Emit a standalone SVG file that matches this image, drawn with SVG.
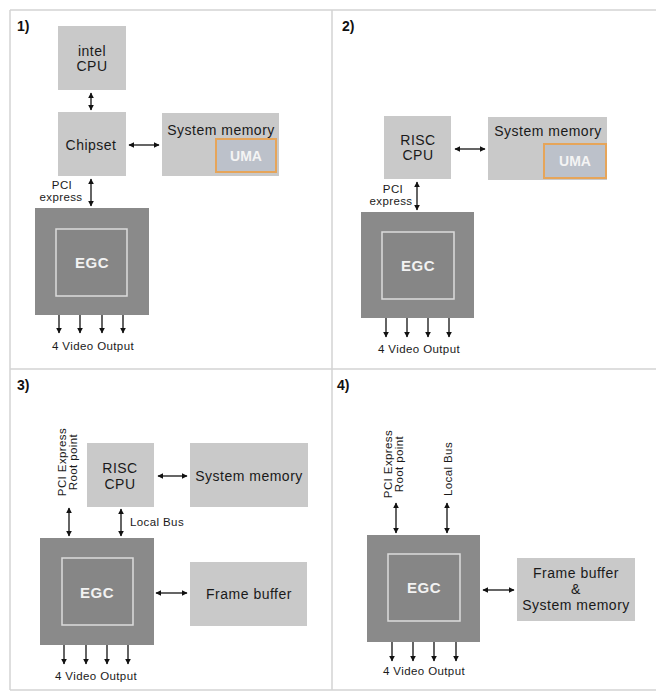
<svg xmlns="http://www.w3.org/2000/svg" width="656" height="695" viewBox="0 0 656 695">
<defs>
<marker id="ah" viewBox="0 0 10 10" refX="9" refY="5" markerWidth="6" markerHeight="6" orient="auto-start-reverse" markerUnits="userSpaceOnUse">
<path d="M0,0 L10,5 L0,10 z" fill="#111"/>
</marker>
<style>
.t{font-family:"Liberation Sans",Arial,sans-serif;fill:#1a1a1a;text-anchor:middle}
.b{font-size:14px;letter-spacing:0.5px}
.s{font-size:11.5px;letter-spacing:0.4px}
.lbl{font-family:"Liberation Sans",Arial,sans-serif;font-weight:bold;font-size:14px;fill:#111}
.box{fill:#c9c9c9}
.egco{fill:#8a8a8a}
.egci{fill:#868686;stroke:#dcdcdc;stroke-width:1.5}
.egct{font-family:"Liberation Sans",Arial,sans-serif;font-weight:bold;font-size:15px;letter-spacing:0.5px;fill:#f2f2f2;text-anchor:middle}
.uma{fill:#bcc1ca;stroke:#e6a55a;stroke-width:2}
.umat{font-family:"Liberation Sans",Arial,sans-serif;font-weight:bold;font-size:14px;fill:#f4f4f4;text-anchor:middle}
.c line{stroke:#111;stroke-width:1.3}
.grid{stroke:#d4d4d4;stroke-width:1.5;fill:none}
</style>
</defs>
<rect width="656" height="695" fill="#fff"/>
<g id="grid">
<path class="grid" d="M10,10 H656 M10,10 V690 M10,690 H656 M332,10 V690 M10,369 H656"/>
</g>

<!-- Panel 1 -->
<text class="lbl" x="17" y="31">1)</text>
<g id="p1-cpu"><rect class="box" x="58" y="26" width="68" height="64"/><text class="t b" x="92" y="56">intel</text><text class="t b" x="92" y="71">CPU</text></g>
<g id="p1-chipset"><rect class="box" x="58" y="112" width="68" height="64"/><text class="t b" x="91" y="150">Chipset</text></g>
<g id="p1-sysmem"><rect class="box" x="162" y="113" width="117" height="63"/><text class="t b" x="221" y="135">System memory</text>
<rect class="uma" x="216" y="139" width="60" height="33"/><text class="umat" x="246" y="161">UMA</text></g>
<g id="p1-egc"><rect class="egco" x="35" y="208" width="114" height="107"/><rect class="egci" x="56" y="229" width="71" height="67"/><text class="egct" x="92" y="268">EGC</text></g>
<text class="t s" x="62" y="189">PCI</text>
<text class="t s" x="61" y="201">express</text>
<text class="t s" x="93" y="350">4 Video Output</text>

<!-- Panel 2 -->
<text class="lbl" x="342" y="31">2)</text>
<g id="p2-cpu"><rect class="box" x="384" y="116" width="67" height="63"/><text class="t b" x="418" y="145">RISC</text><text class="t b" x="418" y="160">CPU</text></g>
<g id="p2-sysmem"><rect class="box" x="488" y="117" width="119" height="63"/><text class="t b" x="548" y="136">System memory</text>
<rect class="uma" x="544" y="144" width="62" height="34"/><text class="umat" x="575" y="166">UMA</text></g>
<g id="p2-egc"><rect class="egco" x="361" y="212" width="113" height="106"/><rect class="egci" x="382" y="232" width="72" height="67"/><text class="egct" x="418" y="271">EGC</text></g>
<text class="t s" x="393" y="193">PCI</text>
<text class="t s" x="391" y="205">express</text>
<text class="t s" x="419" y="353">4 Video Output</text>

<!-- Panel 3 -->
<text class="lbl" x="17" y="390">3)</text>
<g id="p3-cpu"><rect class="box" x="87" y="443" width="67" height="64"/><text class="t b" x="120" y="473">RISC</text><text class="t b" x="120" y="489">CPU</text></g>
<g id="p3-sysmem"><rect class="box" x="190" y="443" width="118" height="64"/><text class="t b" x="249" y="481">System memory</text></g>
<g id="p3-fb"><rect class="box" x="190" y="562" width="117" height="64"/><text class="t b" x="249" y="599">Frame buffer</text></g>
<g id="p3-egc"><rect class="egco" x="40" y="538" width="114" height="107"/><rect class="egci" x="62" y="558" width="71" height="67"/><text class="egct" x="97" y="598">EGC</text></g>
<text class="t s" transform="translate(66,462) rotate(-90)">PCI Express</text>
<text class="t s" transform="translate(77,462) rotate(-90)">Root point</text>
<text class="t s" x="157" y="526">Local Bus</text>
<text class="t s" x="96" y="680">4 Video Output</text>

<!-- Panel 4 -->
<text class="lbl" x="337" y="390">4)</text>
<g id="p4-fb"><rect class="box" x="517" y="558" width="118" height="63"/><text class="t b" x="576" y="578">Frame buffer</text><text class="t b" x="576" y="594">&amp;</text><text class="t b" x="576" y="610">System memory</text></g>
<g id="p4-egc"><rect class="egco" x="367" y="535" width="113" height="107"/><rect class="egci" x="388" y="554" width="72" height="67"/><text class="egct" x="424" y="593">EGC</text></g>
<text class="t s" transform="translate(392,464) rotate(-90)">PCI Express</text>
<text class="t s" transform="translate(403,464) rotate(-90)">Root point</text>
<text class="t s" transform="translate(452,469) rotate(-90)">Local Bus</text>
<text class="t s" x="424" y="675">4 Video Output</text>

<g id="connectors" class="c">
<!-- panel 1 -->
<line x1="91" y1="93" x2="91" y2="110" marker-start="url(#ah)" marker-end="url(#ah)"/>
<line x1="129" y1="145" x2="159" y2="145" marker-start="url(#ah)" marker-end="url(#ah)"/>
<line x1="91" y1="179" x2="91" y2="206" marker-start="url(#ah)" marker-end="url(#ah)"/>
<line x1="59" y1="315" x2="59" y2="333" marker-end="url(#ah)"/>
<line x1="80" y1="315" x2="80" y2="333" marker-end="url(#ah)"/>
<line x1="102" y1="315" x2="102" y2="333" marker-end="url(#ah)"/>
<line x1="123" y1="315" x2="123" y2="333" marker-end="url(#ah)"/>
<!-- panel 2 -->
<line x1="455" y1="149" x2="485" y2="149" marker-start="url(#ah)" marker-end="url(#ah)"/>
<line x1="417" y1="182" x2="417" y2="210" marker-start="url(#ah)" marker-end="url(#ah)"/>
<line x1="386" y1="318" x2="386" y2="337" marker-end="url(#ah)"/>
<line x1="407" y1="318" x2="407" y2="337" marker-end="url(#ah)"/>
<line x1="428" y1="318" x2="428" y2="337" marker-end="url(#ah)"/>
<line x1="449" y1="318" x2="449" y2="337" marker-end="url(#ah)"/>
<!-- panel 3 -->
<line x1="158" y1="476" x2="187" y2="476" marker-start="url(#ah)" marker-end="url(#ah)"/>
<line x1="69" y1="508" x2="69" y2="536" marker-start="url(#ah)" marker-end="url(#ah)"/>
<line x1="121" y1="509" x2="121" y2="536" marker-start="url(#ah)" marker-end="url(#ah)"/>
<line x1="156" y1="593" x2="187" y2="593" marker-start="url(#ah)" marker-end="url(#ah)"/>
<line x1="64" y1="645" x2="64" y2="664" marker-end="url(#ah)"/>
<line x1="86" y1="645" x2="86" y2="664" marker-end="url(#ah)"/>
<line x1="107" y1="645" x2="107" y2="664" marker-end="url(#ah)"/>
<line x1="128" y1="645" x2="128" y2="664" marker-end="url(#ah)"/>
<!-- panel 4 -->
<line x1="396" y1="503" x2="396" y2="533" marker-start="url(#ah)" marker-end="url(#ah)"/>
<line x1="447" y1="503" x2="447" y2="533" marker-start="url(#ah)" marker-end="url(#ah)"/>
<line x1="483" y1="590" x2="514" y2="590" marker-start="url(#ah)" marker-end="url(#ah)"/>
<line x1="392" y1="642" x2="392" y2="661" marker-end="url(#ah)"/>
<line x1="413" y1="642" x2="413" y2="661" marker-end="url(#ah)"/>
<line x1="434" y1="642" x2="434" y2="661" marker-end="url(#ah)"/>
<line x1="456" y1="642" x2="456" y2="661" marker-end="url(#ah)"/>
</g>
</svg>
